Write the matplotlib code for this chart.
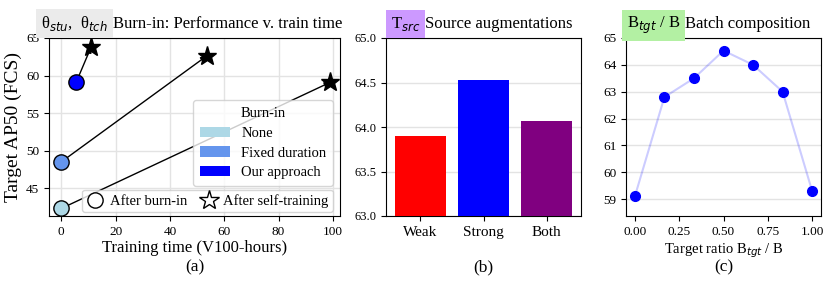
import matplotlib
matplotlib.use("Agg")
import matplotlib.pyplot as plt
from matplotlib.patches import Patch
from matplotlib.lines import Line2D

plt.rcParams['font.family'] = ['Liberation Serif', 'DejaVu Sans']
plt.rcParams['mathtext.fontset'] = 'dejavusans'

# ---- data ----
burnin_labels = ["None", "Fixed duration", "Our approach"]
burnin_colors = ["#add8e6", "#6495ed", "#0000ff"]
after_burnin_time = [0.0, 0.0, 5.5]
after_burnin_ap = [42.3, 48.5, 59.1]
after_self_time = [99.0, 53.5, 11.0]
after_self_ap = [59.1, 62.6, 63.8]

aug_labels = ["Weak", "Strong", "Both"]
aug_values = [63.90, 64.53, 64.07]
aug_colors = ["#ff0000", "#0000ff", "#800080"]

ratio_x = [0.0, 1/6, 1/3, 0.5, 2/3, 5/6, 1.0]
ratio_y = [59.1, 62.8, 63.5, 64.53, 64.0, 63.0, 59.3]

W, H = 831, 282
fig = plt.figure(figsize=(W/100, H/100), dpi=100)

def axrect(l, r, t, b):
    return [l/W, 1 - b/H, (r-l)/W, (b-t)/H]

axa = fig.add_axes(axrect(49, 340, 38, 216))
axb = fig.add_axes(axrect(386, 581, 38, 216))
axc = fig.add_axes(axrect(626, 821, 38, 216))

grid_kw = dict(color="#e3e3e3", lw=1.0)
tick_fs = 9.5

# ---- panel a ----
for i in range(3):
    axa.annotate("", xy=(after_self_time[i], after_self_ap[i]),
                 xytext=(after_burnin_time[i], after_burnin_ap[i]),
                 arrowprops=dict(arrowstyle="-|>", color="black", lw=1.0,
                                 shrinkA=0, shrinkB=0, mutation_scale=8),
                 zorder=2)
    axa.plot(after_burnin_time[i], after_burnin_ap[i], "o", ms=11,
             mfc=burnin_colors[i], mec="black", mew=1.0, zorder=3)
    axa.plot(after_self_time[i], after_self_ap[i], "*", ms=14,
             mfc="black", mec="black", zorder=3)
axa.set_xlim(-4.5, 102.6)
axa.set_ylim(41.3, 65)
axa.set_xticks([0, 20, 40, 60, 80, 100])
axa.set_yticks([45, 50, 55, 60, 65])
axa.grid(True, **grid_kw)
axa.set_axisbelow(True)
axa.tick_params(labelsize=tick_fs)
axa.set_xlabel("Training time (V100-hours)", fontsize=12, labelpad=2)
axa.set_ylabel("Target AP50 (FCS)", fontsize=14, labelpad=3)

h1 = [Patch(facecolor=c, edgecolor="none", label=l) for c, l in zip(burnin_colors, burnin_labels)]
leg1 = axa.legend(handles=h1, title="Burn-in", loc="lower right",
                  bbox_to_anchor=(0.976, 0.169), borderaxespad=0,
                  fontsize=10.5, title_fontsize=10.5,
                  handlelength=2.05, borderpad=0.45, labelspacing=0.45)
axa.add_artist(leg1)
h2 = [Line2D([], [], ls="none", marker="o", ms=11, mfc="white", mec="black", label="After burn-in"),
      Line2D([], [], ls="none", marker="*", ms=15, mfc="white", mec="black", label="After self-training")]
axa.legend(handles=h2, loc="lower right", bbox_to_anchor=(0.976, 0.022), borderaxespad=0,
           ncol=2, fontsize=10.5, handlelength=1.2, columnspacing=0.9,
           borderpad=0.3, handletextpad=0.4)

# ---- panel b ----
axb.bar(range(3), aug_values, color=aug_colors, width=0.8, zorder=3)
axb.set_ylim(63.0, 65.0)
axb.set_yticks([63.0, 63.5, 64.0, 64.5, 65.0])
axb.set_yticklabels(["63.0", "63.5", "64.0", "64.5", "65.0"])
axb.set_xticks(range(3))
axb.set_xticklabels(aug_labels, fontsize=11)
axb.yaxis.grid(True, **grid_kw)
axb.set_axisbelow(True)
axb.tick_params(axis="y", labelsize=9)

# ---- panel c ----
axc.plot(ratio_x, ratio_y, "-", color="blue", alpha=0.2, lw=1.5, zorder=2)
axc.plot(ratio_x, ratio_y, "o", color="blue", ms=7, ls="none", zorder=3)
axc.set_ylim(58.37, 65)
axc.set_xlim(-0.05, 1.05)
axc.set_yticks([59, 60, 61, 62, 63, 64, 65])
axc.set_xticks([0, 0.25, 0.5, 0.75, 1.0])
axc.set_xticklabels(["0.00", "0.25", "0.50", "0.75", "1.00"])
axc.yaxis.grid(True, **grid_kw)
axc.set_axisbelow(True)
axc.tick_params(labelsize=tick_fs)
axc.set_xlabel("Target ratio B$_{tgt}$ / B", fontsize=10.5, labelpad=3)

# ---- titles ----
ty = 1 - 28/H
def title(split_x, hl, rest, color):
    fig.text((split_x - 3)/W, ty, hl, ha="right", va="baseline", fontsize=12,
             bbox=dict(boxstyle="square,pad=0.3", fc=color, ec="none"))
    fig.text((split_x + 2)/W, ty, rest, ha="left", va="baseline", fontsize=12)

title(111, "θ$_{stu}$,  θ$_{tch}$", "Burn-in: Performance v. train time", "#ebebeb")
title(423, "T$_{src}$", "Source augmentations", "#cc99ff")
title(683, "B$_{tgt}$ / B", "Batch composition", "#b3f0a3")

# ---- sub-labels ----
for cx, lab in [((49+340)/2, "(a)"), ((386+581)/2, "(b)"), ((626+821)/2, "(c)")]:
    fig.text(cx/W, 1 - 271/H, lab, ha="center", va="baseline", fontsize=12.5)

fig.savefig("out.png", dpi=100)
